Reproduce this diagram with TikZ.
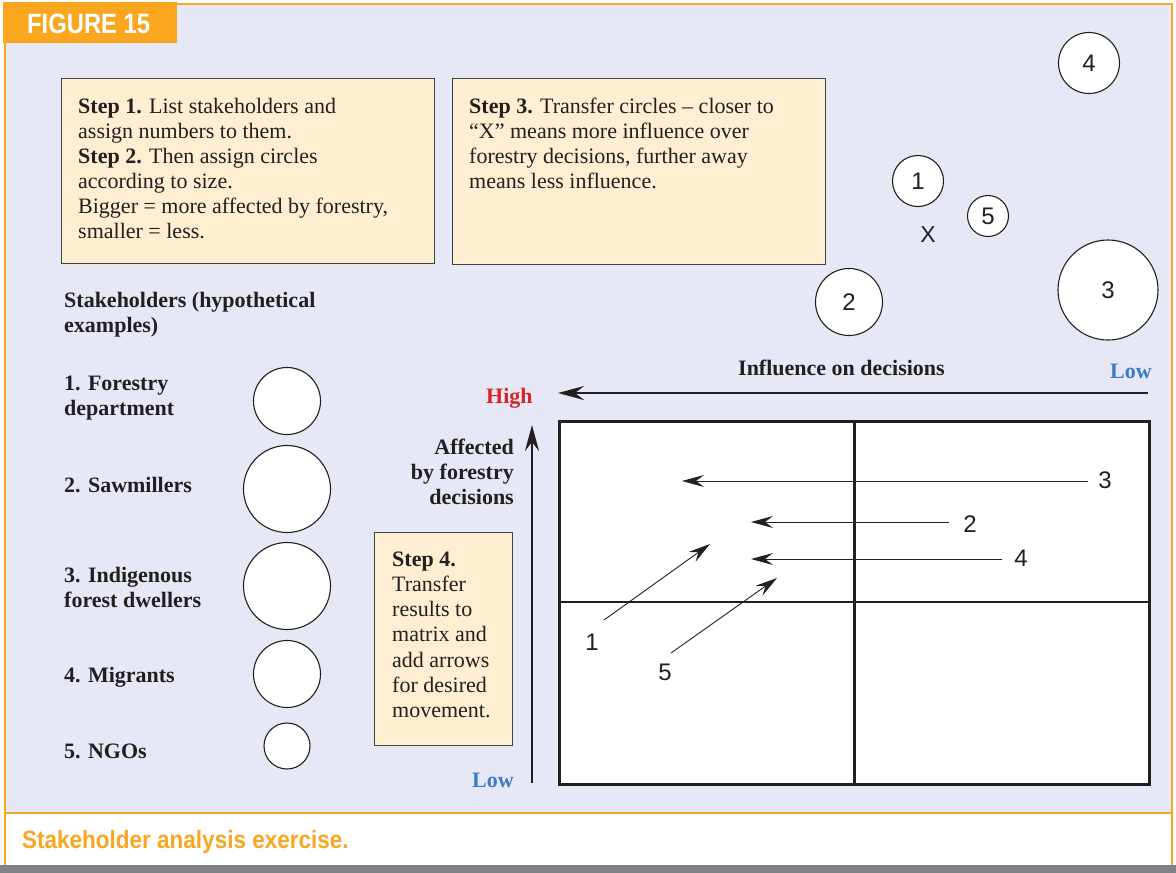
\documentclass[tikz,border=0pt]{standalone}
\usepackage{fontspec}
\setmainfont{Liberation Serif}
\newfontfamily\sansf{Liberation Sans}
\newfontfamily\condf[FakeStretch=0.85]{Liberation Sans}
\newfontfamily\capf[FakeStretch=0.9]{Liberation Sans}
\usetikzlibrary{arrows.meta}
\definecolor{lav}{HTML}{E6E8F5}
\definecolor{orng}{HTML}{FAA71F}
\definecolor{peach}{HTML}{FFEED2}
\definecolor{ink}{HTML}{231F20}
\definecolor{hired}{HTML}{D8232A}
\definecolor{loblue}{HTML}{3B7CC4}
\definecolor{greybar}{HTML}{808184}
\newcommand{\lft}[2]{\parbox[t]{#1}{\raggedright #2}}
\newcommand{\rgt}[2]{\parbox[t]{#1}{\raggedleft #2}}
\begin{document}
\begin{tikzpicture}[x=1pt,y=-1pt,
  body/.style={font=\fontsize{22}{25}\selectfont, text=ink, inner sep=0pt, anchor=base west},
  stepbox/.style={draw=ink!85, line width=1pt, fill=peach, anchor=north west, inner sep=0pt},
  circ/.style={circle, draw=ink, line width=1.1pt, fill=white, inner sep=0pt, minimum size=#1,
    font=\sansf\fontsize{24}{24}\selectfont, text=ink},
  num/.style={font=\sansf\fontsize{24}{24}\selectfont, text=ink, inner sep=0pt},
  mline/.style={draw=ink, line width=2.5pt},
  axis/.style={draw=ink, line width=2.8pt, -{Stealth[length=26pt,width=14pt,inset=9pt]}},
  moveline/.style={draw=ink, line width=0.9pt, -{Stealth[length=22pt,width=12pt,inset=8pt]}}]
\useasboundingbox (0,0) rectangle (1176,873);
% frame
\fill[white] (0,0) rectangle (1176,873);
\fill[lav] (5,4) rectangle (1172,813);
\fill[greybar] (0,865) rectangle (1176,873);
\draw[orng, line width=2pt] (5,865) -- (5,4) -- (1172,4) -- (1172,865);
\draw[orng, line width=2.2pt] (5,813) -- (1172,813);
\fill[orng] (3,2) rectangle (177,43);
\node[font=\condf\bfseries\fontsize{28}{28}\selectfont, text=white, inner sep=0pt, anchor=base west] (fig) at (27,33) {FIGURE 15};
\node[font=\capf\bfseries\fontsize{25}{25}\selectfont, text=orng, inner sep=0pt, anchor=base west] (cap) at (22,848) {Stakeholder analysis exercise.};

% step boxes
\node[stepbox, minimum width=373pt, minimum height=185pt] (box1) at (61,78) {};
\node[stepbox, minimum width=373pt, minimum height=186pt] (box3) at (452,78) {};
\node[stepbox, minimum width=138pt, minimum height=213pt] (box4) at (374,532) {};
\node[body] (t1) at (78,113) {\lft{360pt}{\textbf{Step 1.} List stakeholders and\\assign numbers to them.\\\textbf{Step 2.} Then assign circles\\according to size.\\Bigger = more affected by forestry,\\smaller = less.}};
\node[body] (t3) at (469,113) {\lft{360pt}{\textbf{Step 3.} Transfer circles – closer to\\“X” means more influence over\\forestry decisions, further away\\means less influence.}};
\node[body, font=\fontsize{22}{25.3}\selectfont] (t4) at (392,566) {\lft{130pt}{\textbf{Step 4.}\\Transfer\\results to\\matrix and\\add arrows\\for desired\\movement.}};

% stakeholder list
\node[body, font=\bfseries\fontsize{22}{25}\selectfont] (sh) at (64,307) {\lft{300pt}{Stakeholders (hypothetical\\examples)}};
\node[body, font=\bfseries\fontsize{22}{25}\selectfont] (n1) at (64,390) {\lft{200pt}{1. Forestry\\department}};
\node[body, font=\bfseries\fontsize{22}{25}\selectfont] (n2) at (64,492) {2. Sawmillers};
\node[body, font=\bfseries\fontsize{22}{25}\selectfont] (n3) at (64,582) {\lft{200pt}{3. Indigenous\\forest dwellers}};
\node[body, font=\bfseries\fontsize{22}{25}\selectfont] (n4) at (64,682) {4. Migrants};
\node[body, font=\bfseries\fontsize{22}{25}\selectfont] (n5) at (64,758) {5. NGOs};
\node[circ=67pt] (c1) at (287,401) {};
\node[circ=87pt] (c2) at (287,489) {};
\node[circ=87pt] (c3) at (287,586) {};
\node[circ=67pt] (c4) at (287,674) {};
\node[circ=46pt] (c5) at (287,746) {};

% influence circles
\node[circ=61pt] (r4) at (1089,63) {4};
\node[circ=51pt] (r1) at (918,181) {1};
\node[circ=41pt] (r5) at (988,216) {5};
\node[num, font=\sansf\fontsize{23}{23}\selectfont] (xx) at (928,235) {X};
\node[circ=67pt] (r2) at (849,302) {2};
\node[circ=100pt] (r3) at (1108,290) {3};

% axes
\node[body, font=\bfseries\fontsize{22}{25}\selectfont] (inf) at (738,375) {Influence on decisions};
\node[body, font=\bfseries\fontsize{22}{25}\selectfont, text=loblue] (lowh) at (1110,378) {Low};
\node[body, font=\bfseries\fontsize{22}{25}\selectfont, text=hired] (high) at (486,403) {High};
\node[body, font=\bfseries\fontsize{22}{25}\selectfont, text=loblue] (lowv) at (472,787) {Low};
\node[body, font=\bfseries\fontsize{22}{25}\selectfont, anchor=base east] (aff) at (514,454) {\rgt{150pt}{Affected\\by forestry\\decisions}};
\coordinate (hs) at (1148,393);
\coordinate (he) at (558,393);
\coordinate (vs) at (532,783);
\coordinate (ve) at (532,425);
\draw[axis] (hs) -- (he);
\draw[axis] (vs) -- (ve);

% matrix
\node[mline, fill=white, anchor=north west, minimum width=590pt, minimum height=363pt, inner sep=0pt] (mat) at (558,420) {};
\coordinate (ml) at (558,602);
\coordinate (mr) at (1148,602);
\draw[mline] (mat.north) -- (mat.south);
\draw[mline] (ml) -- (mr);

% movement arrows
\node[num] (m3) at (1105,480) {3};
\node[num] (m2) at (970,524) {2};
\node[num] (m4) at (1021,558) {4};
\node[num] (m1) at (592,642) {1};
\node[num] (m5) at (665,672) {5};
\coordinate (s3) at (1088,481); \coordinate (e3) at (682,481);
\coordinate (s2) at (949,522);  \coordinate (e2) at (751,522);
\coordinate (s4) at (1002,559); \coordinate (e4) at (751,559);
\coordinate (s1) at (604,620);  \coordinate (e1) at (710,544);
\coordinate (s5) at (671,653);  \coordinate (e5) at (777,578);
\draw[moveline] (s3) -- (e3);
\draw[moveline] (s2) -- (e2);
\draw[moveline] (s4) -- (e4);
\draw[moveline] (s1) -- (e1);
\draw[moveline] (s5) -- (e5);
\end{tikzpicture}
\end{document}
